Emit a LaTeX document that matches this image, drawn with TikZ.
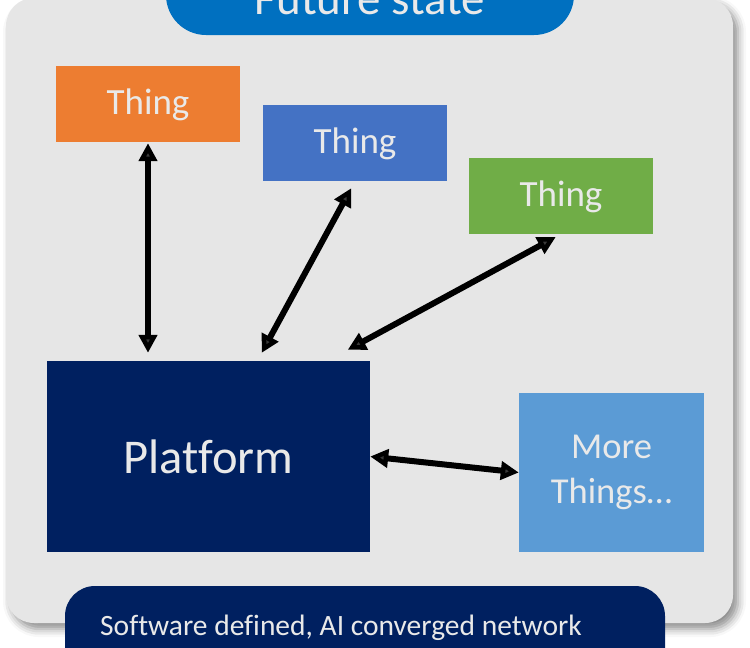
\documentclass[tikz,border=0pt]{standalone}
\usepackage{fontspec}
\setmainfont{Carlito}[Ligatures={NoCommon}]
\usetikzlibrary{arrows.meta,calc,shadows.blur}

\definecolor{panelgray}{HTML}{E6E6E6}
\definecolor{labelwhite}{HTML}{E9E9E9}
\definecolor{thingorange}{HTML}{ED7D31}
\definecolor{thingblue}{HTML}{4472C4}
\definecolor{thinggreen}{HTML}{70AD47}
\definecolor{navy}{HTML}{002060}
\definecolor{skyblue}{HTML}{5B9BD5}
\definecolor{titleblue}{HTML}{0070C0}

\tikzset{
  thingbox/.style={inner sep=0pt, minimum width=184pt, minimum height=76pt,
    text=labelwhite, font=\fontsize{37}{44}\selectfont,
    text height=26pt, text depth=6pt},
  biarrow/.style={line width=6pt,
    {Triangle[length=18pt,width=18pt]}-{Triangle[length=18pt,width=18pt]}},
}

\begin{document}
\begin{tikzpicture}[x=1pt,y=-1pt]
  \useasboundingbox (0,0) rectangle (750,648);
  \clip (0,0) rectangle (750,648);

  % grey background panel with soft shadow
  \fill[panelgray, rounded corners=28pt,
        blur shadow={shadow xshift=5pt, shadow yshift=-6pt,
                     shadow blur radius=8pt, shadow opacity=45}]
    (6,-2) rectangle (733,623);

  % title banner
  \fill[titleblue, rounded corners=40pt] (166,-60) rectangle (574,35);
  \node[anchor=base, text=labelwhite, font=\fontsize{47}{56}\selectfont]
    (title) at (370,14) {Future state};

  % things
  \node[thingbox, fill=thingorange] (orange) at (148,104) {Thing};
  \node[thingbox, fill=thingblue]   (blue)   at (355,143) {Thing};
  \node[thingbox, fill=thinggreen]  (green)  at (561,196) {Thing};

  % platform
  \node[inner sep=0pt, minimum width=323pt, minimum height=191pt, fill=navy,
        text=labelwhite, font=\fontsize{48.5}{58}\selectfont]
    (platform) at (208.5,456.5) {Platform};

  % more things
  \node[inner sep=0pt, minimum width=185pt, minimum height=159pt, fill=skyblue,
        text=labelwhite, align=center, font=\fontsize{36.5}{45}\selectfont]
    (more) at (611.5,472.5) {More\\Things…};

  % target points on top of the platform
  \coordinate (ptA) at ($(platform.north west)!0.651!(platform.north east)$);
  \coordinate (ptB) at ($(platform.north west)!0.868!(platform.north east)$);

  % connectors
  \draw[biarrow, shorten <=1pt, shorten >=8pt]
    (orange.south) -- (orange.south |- platform.north);
  \draw[biarrow, shorten <=8pt, shorten >=9pt] (blue.south) -- (ptA);
  \draw[biarrow, shorten <=6pt, shorten >=23pt] (green.south) -- (ptB);
  \draw[biarrow] (platform.east) -- (more.west);

  % footer banner
  \fill[navy, rounded corners=30pt] (65,586) rectangle (665,700);
  \node[anchor=base west, inner sep=0pt, text=labelwhite,
        font=\fontsize{29.5}{35}\selectfont]
    (footer) at (100,635) {Software defined, AI converged network};
\end{tikzpicture}
\end{document}
